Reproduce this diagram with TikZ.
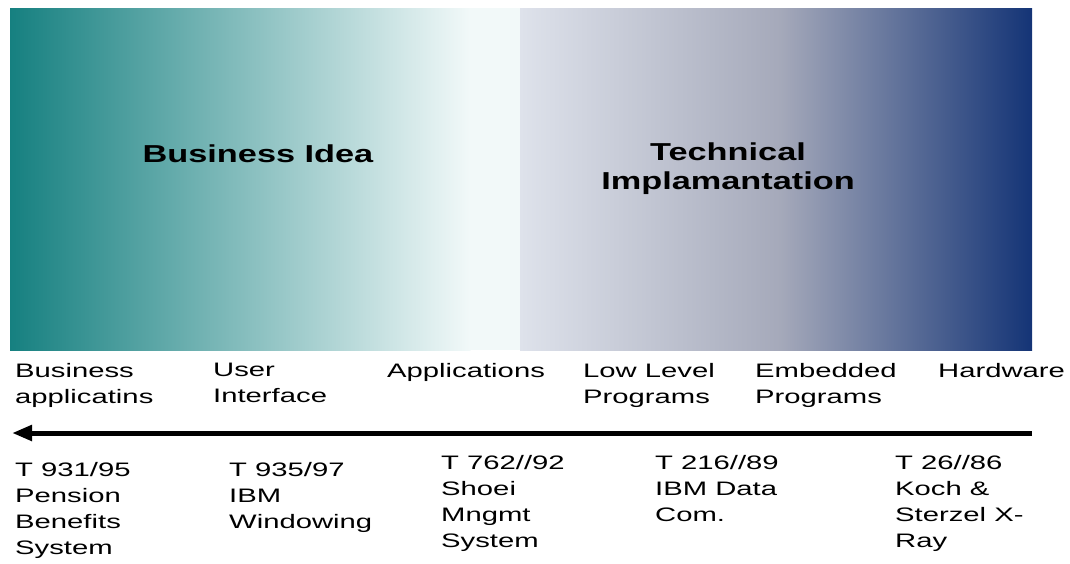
\documentclass[tikz,border=0pt]{standalone}
\usepackage{fontspec}
\setmainfont{Liberation Sans}[FakeStretch=1.5]
\newfontfamily\ideaFont{Liberation Sans}[FakeStretch=1.4]
\usetikzlibrary{arrows.meta}

\definecolor{ideaTeal}{RGB}{22,128,128}
\definecolor{ideaMid}{RGB}{128,170,170}
\definecolor{ideaWhite}{RGB}{242,249,249}
\definecolor{techLight}{RGB}{222,226,235}
\definecolor{techGrey}{RGB}{165,169,186}
\definecolor{techDusk}{RGB}{88,92,132}
\definecolor{techNavy}{RGB}{20,52,118}

\tikzset{
  fieldLabel/.style = {anchor=north west, inner sep=0pt, align=left,
    font=\fontsize{19.5}{26}\selectfont},
  areaLabel/.style = {inner sep=0pt, align=center,
    font=\ideaFont\bfseries\fontsize{24.5}{29}\selectfont},
  axisArrow/.style = {line width=5pt, -{Triangle[length=20pt,width=15pt]}}
}

\begin{document}
\begin{tikzpicture}[x = 1pt, y = -1pt]
        \useasboundingbox (0,0) rectangle (1070,563);
        \pgfmathsetmacro{\axisY}{433}
        % gradient band
        \shade[left color=ideaTeal, middle color=ideaMid, right color=ideaWhite] (10,8) rectangle (470.5,350);
        \fill[ideaWhite] (470,8) rectangle (520.5,350);
        \shade[left color=techLight, right color=techGrey] (520,8) rectangle (780.5,350);
        \shade[left color=techGrey, middle color=techDusk, right color=techNavy] (780,8) rectangle (1032,350);
        \node[areaLabel, anchor=base] (ideaLabel) at (258,162) {Business Idea};
        \node[areaLabel, anchor=north] (techLabel) at (728,143) {Technical\\Implamantation};
        % fields above the axis
        \node[fieldLabel] (busApps) at (15,363) {Business\\applicatins};
        \node[fieldLabel] (userIface) at (213,363) {User\\Interface};
        \node[fieldLabel] (apps) at (387,363) {Applications};
        \node[fieldLabel] (lowProgs) at (583,363) {Low Level\\Programs};
        \node[fieldLabel] (embProgs) at (755,363) {Embedded\\Programs};
        \node[fieldLabel] (hardware) at (938,363) {Hardware};
        % axis
        \coordinate (axisRight) at (1032,\axisY);
        \coordinate (axisLeft) at (12,\axisY);
        \draw[axisArrow] (axisRight) -- (axisLeft);
        % decisions below the axis
        \node[fieldLabel] (pension) at (15,462) {T 931/95\\Pension\\Benefits\\System};
        \node[fieldLabel] (ibmWin) at (229,462) {T 935/97\\IBM\\Windowing};
        \node[fieldLabel] (shoei) at (441,455) {T 762//92\\Shoei\\Mngmt\\System};
        \node[fieldLabel] (ibmData) at (655,455) {T 216//89\\IBM Data\\Com.};
        \node[fieldLabel] (kochSterzel) at (895,455) {T 26//86\\Koch \&\\Sterzel X-\\Ray};
      \end{tikzpicture}
\end{document}
